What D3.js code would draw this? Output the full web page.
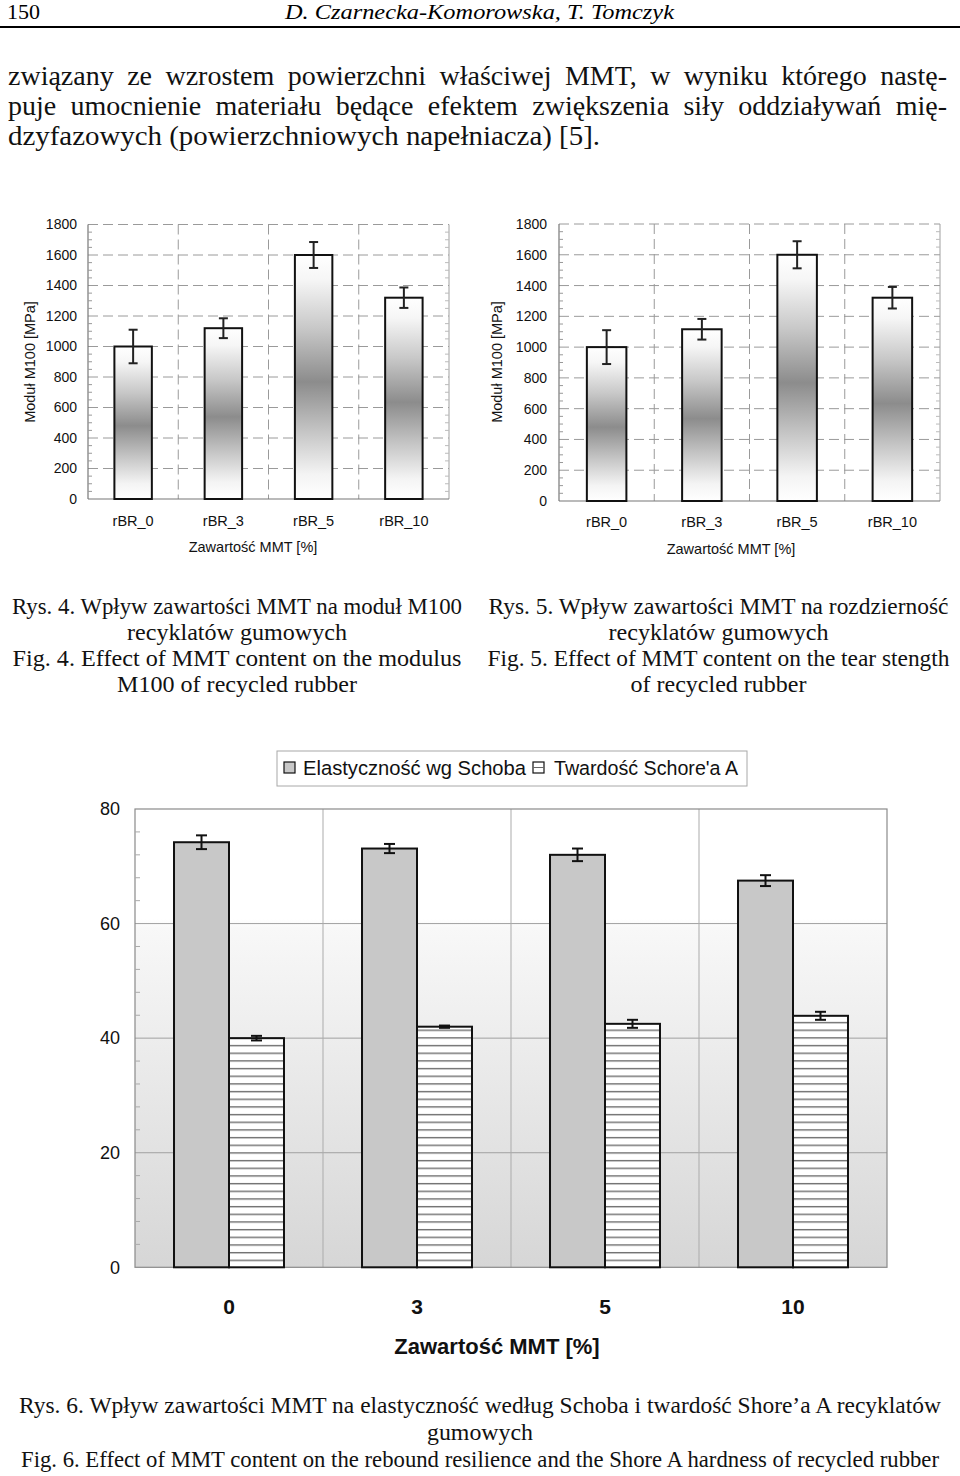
<!DOCTYPE html>
<html><head><meta charset="utf-8">
<script src="https://cdn.jsdelivr.net/npm/d3@7/dist/d3.min.js"></script>
<style>
html,body{margin:0;padding:0;background:#fff;}
svg{display:block;}
</style></head>
<body>
<svg id="page" width="960" height="1476"></svg>
<script>
// ---------- DATA ----------
const categoriesTop = ["rBR_0", "rBR_3", "rBR_5", "rBR_10"];
const modulusM100 = [1000, 1120, 1600, 1320];
const modulusErr = [110, 65, 85, 67];
const tearStrength = [1000, 1116, 1600, 1321];
const tearErr = [110, 67, 88, 70];
const topTicks = [0, 200, 400, 600, 800, 1000, 1200, 1400, 1600, 1800];

const mmtContent = ["0", "3", "5", "10"];
const seriesNames = ["Elastyczność wg Schoba", "Twardość Schore'a A"];
const elasticity = [74.2, 73.1, 72.0, 67.5];
const elasticityErr = [1.2, 0.8, 1.1, 0.95];
const hardness = [40.0, 42.0, 42.5, 43.9];
const hardnessErr = [0.4, 0.2, 0.7, 0.7];
const bottomTicks = [0, 20, 40, 60, 80];

// ---------- TEXT ----------
const headerNum = "150";
const headerAuthors = "D. Czarnecka-Komorowska, T. Tomczyk";
const paraLines = [
  "związany ze wzrostem powierzchni właściwej MMT, w wyniku którego nastę-",
  "puje umocnienie materiału będące efektem zwiększenia siły oddziaływań mię-",
  "dzyfazowych (powierzchniowych napełniacza) [5]."
];
const cap4 = ["Rys. 4. Wpływ zawartości MMT na moduł M100", "recyklatów gumowych",
  "Fig. 4. Effect of MMT content on the modulus", "M100 of recycled rubber"];
const cap5 = ["Rys. 5. Wpływ zawartości MMT na rozdzierność", "recyklatów gumowych",
  "Fig. 5. Effect of MMT content on the tear stength", "of recycled rubber"];
const cap6 = ["Rys. 6. Wpływ zawartości MMT na elastyczność według Schoba i twardość Shore’a A recyklatów",
  "gumowych",
  "Fig. 6. Effect of MMT content on the rebound resilience and the Shore A hardness of recycled rubber"];

const SERIF = "'Liberation Serif','Times New Roman',serif";
const SANS = "'Liberation Sans',Arial,sans-serif";

const svg = d3.select("#page");
const defs = svg.append("defs");

// ---------- HEADER ----------
svg.append("text").attr("x", 7).attr("y", 19).attr("font-family", SERIF).attr("font-size", 22)
  .attr("textLength", 33).attr("lengthAdjust", "spacingAndGlyphs").text(headerNum);
svg.append("text").attr("x", 285).attr("y", 19).attr("font-family", SERIF).attr("font-size", 22)
  .attr("font-style", "italic").attr("textLength", 389).attr("lengthAdjust", "spacingAndGlyphs").text(headerAuthors);
svg.append("line").attr("x1", 0).attr("x2", 960).attr("y1", 27).attr("y2", 27)
  .attr("stroke", "#000").attr("stroke-width", 2);

// ---------- PARAGRAPH ----------
const paraFs = 28;
function justifyLine(str, xL, xR, y) {
  const words = str.split(" ");
  const g = svg.append("g");
  const nodes = words.map(w => g.append("text").attr("font-family", SERIF).attr("font-size", paraFs)
    .attr("fill", "#111").attr("y", y).text(w));
  const widths = nodes.map(n => n.node().getComputedTextLength());
  const total = d3.sum(widths);
  const gap = (xR - xL - total) / (words.length - 1);
  let x = xL;
  nodes.forEach((n, i) => { n.attr("x", x); x += widths[i] + gap; });
}
justifyLine(paraLines[0], 8, 947, 85);
justifyLine(paraLines[1], 8, 947, 115);
svg.append("text").attr("x", 8).attr("y", 145).attr("font-family", SERIF).attr("font-size", paraFs)
  .attr("fill", "#111").attr("textLength", 592).attr("lengthAdjust", "spacingAndGlyphs").text(paraLines[2]);

// ---------- TOP CHART GRADIENT ----------
const grad = defs.append("linearGradient").attr("id", "barGrad")
  .attr("x1", 0).attr("y1", 0).attr("x2", 0).attr("y2", 1);
[[0, "#ffffff"], [0.1, "#f6f6f6"], [0.3, "#c8c8c8"], [0.52, "#8c8c8c"], [0.72, "#c4c4c4"], [0.9, "#f4f4f4"], [1, "#ffffff"]]
  .forEach(([o, c]) => grad.append("stop").attr("offset", o).attr("stop-color", c));

function drawTop(cfg) {
  const g = svg.append("g");
  const x = d3.scaleBand().domain(categoriesTop).range([cfg.x0, cfg.x1]).padding(0);
  const y = d3.scaleLinear().domain([0, 1800]).range([cfg.yb, cfg.yt]);
  g.selectAll(".hg").data(topTicks.filter(t => t > 0)).enter().append("line")
    .attr("x1", cfg.x0).attr("x2", cfg.x1).attr("y1", d => y(d)).attr("y2", d => y(d))
    .attr("stroke", "#9a9a9a").attr("stroke-width", 1).attr("stroke-dasharray", "10,5");
  g.selectAll(".vg").data(categoriesTop.slice(1)).enter().append("line")
    .attr("x1", d => x(d)).attr("x2", d => x(d)).attr("y1", cfg.yt).attr("y2", cfg.yb)
    .attr("stroke", "#9a9a9a").attr("stroke-width", 1).attr("stroke-dasharray", "10,5");
  g.append("line").attr("x1", cfg.x1).attr("x2", cfg.x1).attr("y1", cfg.yt).attr("y2", cfg.yb)
    .attr("stroke", "#a0a0a0").attr("stroke-width", 1);
  g.append("line").attr("x1", cfg.x0).attr("x2", cfg.x0).attr("y1", cfg.yt).attr("y2", cfg.yb)
    .attr("stroke", "#777").attr("stroke-width", 1.2);
  g.append("line").attr("x1", cfg.x0).attr("x2", cfg.x1).attr("y1", cfg.yb).attr("y2", cfg.yb)
    .attr("stroke", "#777").attr("stroke-width", 1.2);
  const minor = d3.range(50, 1800, 50).filter(v => v % 200 !== 0);
  g.selectAll(".mt").data(minor).enter().append("line")
    .attr("x1", cfg.x0).attr("x2", cfg.x0 + 4).attr("y1", d => y(d)).attr("y2", d => y(d))
    .attr("stroke", "#999").attr("stroke-width", 1);
  g.selectAll(".mt2").data(minor).enter().append("line")
    .attr("x1", cfg.x1).attr("x2", cfg.x1 - 4).attr("y1", d => y(d)).attr("y2", d => y(d))
    .attr("stroke", "#bbb").attr("stroke-width", 1);
  const bw = x.bandwidth() * 0.415;
  g.selectAll(".bar").data(cfg.values).enter().append("rect")
    .attr("x", (d, i) => x(categoriesTop[i]) + x.bandwidth() / 2 - bw / 2)
    .attr("y", d => y(d)).attr("width", bw).attr("height", d => y(0) - y(d))
    .attr("fill", "url(#barGrad)").attr("stroke", "#111").attr("stroke-width", 2);
  const cw = 9;
  cfg.values.forEach((v, i) => {
    const cx = x(categoriesTop[i]) + x.bandwidth() / 2;
    const e = cfg.errs[i];
    const eg = g.append("g").attr("stroke", "#222").attr("stroke-width", 2);
    eg.append("line").attr("x1", cx).attr("x2", cx).attr("y1", y(v + e)).attr("y2", y(v - e));
    eg.append("line").attr("x1", cx - cw / 2).attr("x2", cx + cw / 2).attr("y1", y(v + e)).attr("y2", y(v + e));
    eg.append("line").attr("x1", cx - cw / 2).attr("x2", cx + cw / 2).attr("y1", y(v - e)).attr("y2", y(v - e));
  });
  const ya = g.append("g").attr("transform", `translate(${cfg.x0},0)`)
    .call(d3.axisLeft(y).tickValues(topTicks).tickSize(0).tickPadding(cfg.yPad).tickFormat(d3.format("d")));
  ya.select(".domain").remove();
  ya.selectAll("text").attr("font-family", SANS).attr("font-size", 14).attr("fill", "#111");
  const xa = g.append("g").attr("transform", `translate(0,${cfg.yb})`)
    .call(d3.axisBottom(x).tickSize(0).tickPadding(cfg.xPad));
  xa.select(".domain").remove();
  xa.selectAll("text").attr("font-family", SANS).attr("font-size", 14.5).attr("fill", "#111");
  g.append("text").attr("x", cfg.titleX).attr("y", cfg.titleY).attr("text-anchor", "middle")
    .attr("font-family", SANS).attr("font-size", 14.5).attr("fill", "#111").text("Zawartość MMT [%]");
  g.append("text").attr("transform", `translate(${cfg.ylabX},${cfg.ylabY}) rotate(-90)`)
    .attr("text-anchor", "middle").attr("dy", "0.35em")
    .attr("font-family", SANS).attr("font-size", 14.5).attr("fill", "#111").text("Moduł M100 [MPa]");
}

drawTop({ x0: 88, x1: 449, yt: 224.5, yb: 499, values: modulusM100, errs: modulusErr,
  yPad: 11, xPad: 17, titleX: 253, titleY: 552, ylabX: 30, ylabY: 362 });
drawTop({ x0: 559, x1: 940, yt: 224, yb: 501, values: tearStrength, errs: tearErr,
  yPad: 12, xPad: 16, titleX: 731, titleY: 554, ylabX: 497, ylabY: 362 });

// ---------- CAPTIONS ----------
function caption(lines, cx, ys, widths) {
  lines.forEach((t, i) => {
    svg.append("text").attr("x", cx).attr("y", ys[i]).attr("text-anchor", "middle")
      .attr("font-family", SERIF).attr("font-size", 23).attr("fill", "#111")
      .attr("textLength", widths[i]).attr("lengthAdjust", "spacingAndGlyphs").text(t);
  });
}
caption(cap4, 237, [614, 640, 666, 692], [450, 220, 449, 240]);
caption(cap5, 718.5, [614, 640, 666, 692], [460, 220, 462, 176]);
caption(cap6, 480, [1413, 1440, 1467], [922, 106, 918]);

// ---------- BOTTOM CHART ----------
const B = { x0: 135, x1: 887, yt: 809, yb: 1267.3 };
const xb = d3.scaleBand().domain(mmtContent).range([B.x0, B.x1]).padding(0);
const yb = d3.scaleLinear().domain([0, 80]).range([B.yb, B.yt]);
const gw = xb.bandwidth() * 0.585;
const xs = d3.scaleBand().domain(seriesNames).range([0, gw]).padding(0);

const bg = defs.append("linearGradient").attr("id", "plotBg").attr("gradientUnits", "userSpaceOnUse")
  .attr("x1", 0).attr("x2", 0).attr("y1", B.yt).attr("y2", B.yb);
[[0, "#ffffff"], [0.24, "#ffffff"], [0.26, "#f8f8f8"], [1, "#d6d6d6"]]
  .forEach(([o, c]) => bg.append("stop").attr("offset", o).attr("stop-color", c));

const pat = defs.append("pattern").attr("id", "hatch").attr("patternUnits", "userSpaceOnUse")
  .attr("x", 0).attr("y", B.yb).attr("width", 10).attr("height", 7.67);
pat.append("rect").attr("width", 10).attr("height", 7.67).attr("fill", "#fff");
pat.append("rect").attr("y", 0).attr("width", 10).attr("height", 1.4).attr("fill", "#6e6e6e");

const gb = svg.append("g");
gb.append("rect").attr("x", B.x0).attr("y", B.yt).attr("width", B.x1 - B.x0).attr("height", B.yb - B.yt)
  .attr("fill", "url(#plotBg)");
gb.selectAll(".hg").data(bottomTicks.filter(t => t > 0 && t < 80)).enter().append("line")
  .attr("x1", B.x0).attr("x2", B.x1).attr("y1", d => yb(d)).attr("y2", d => yb(d))
  .attr("stroke", "#a0a0a0").attr("stroke-width", 1);
gb.selectAll(".vg").data(mmtContent.slice(1)).enter().append("line")
  .attr("x1", d => xb(d)).attr("x2", d => xb(d)).attr("y1", B.yt).attr("y2", B.yb)
  .attr("stroke", "#ababab").attr("stroke-width", 1);
gb.append("rect").attr("x", B.x0).attr("y", B.yt).attr("width", B.x1 - B.x0).attr("height", B.yb - B.yt)
  .attr("fill", "none").attr("stroke", "#8a8a8a").attr("stroke-width", 1.2);
gb.selectAll(".mt").data(d3.range(4, 80, 4).filter(v => v % 20 !== 0)).enter().append("line")
  .attr("x1", B.x0).attr("x2", B.x0 + 5).attr("y1", d => yb(d)).attr("y2", d => yb(d))
  .attr("stroke", "#aaa").attr("stroke-width", 1);

const seriesVals = [elasticity, hardness];
const seriesErrs = [elasticityErr, hardnessErr];
const seriesFill = ["#c8c8c8", "url(#hatch)"];
seriesNames.forEach((s, si) => {
  mmtContent.forEach((c, i) => {
    const left = xb(c) + xb.bandwidth() / 2 - gw / 2 + xs(s);
    const v = seriesVals[si][i];
    gb.append("rect").attr("x", left).attr("y", yb(v)).attr("width", xs.bandwidth())
      .attr("height", yb(0) - yb(v)).attr("fill", seriesFill[si])
      .attr("stroke", "#111").attr("stroke-width", 2);
  });
});
seriesNames.forEach((s, si) => {
  mmtContent.forEach((c, i) => {
    const cx = xb(c) + xb.bandwidth() / 2 - gw / 2 + xs(s) + xs.bandwidth() / 2;
    const v = seriesVals[si][i], e = seriesErrs[si][i];
    const cw = 11;
    const eg = gb.append("g").attr("stroke", "#111").attr("stroke-width", 2);
    eg.append("line").attr("x1", cx).attr("x2", cx).attr("y1", yb(v + e)).attr("y2", yb(v - e));
    eg.append("line").attr("x1", cx - cw / 2).attr("x2", cx + cw / 2).attr("y1", yb(v + e)).attr("y2", yb(v + e));
    eg.append("line").attr("x1", cx - cw / 2).attr("x2", cx + cw / 2).attr("y1", yb(v - e)).attr("y2", yb(v - e));
  });
});

const yab = gb.append("g").attr("transform", `translate(${B.x0},0)`)
  .call(d3.axisLeft(yb).tickValues(bottomTicks).tickSize(0).tickPadding(15));
yab.select(".domain").remove();
yab.selectAll("text").attr("font-family", SANS).attr("font-size", 18).attr("fill", "#111");
const xab = gb.append("g").attr("transform", `translate(0,${B.yb})`)
  .call(d3.axisBottom(xb).tickSize(0).tickPadding(32));
xab.select(".domain").remove();
xab.selectAll("text").attr("font-family", SANS).attr("font-size", 21).attr("font-weight", "bold").attr("fill", "#111");
gb.append("text").attr("x", 497).attr("y", 1354).attr("text-anchor", "middle")
  .attr("font-family", SANS).attr("font-size", 22).attr("font-weight", "bold").attr("fill", "#111")
  .text("Zawartość MMT [%]");

// legend
const lg = svg.append("g");
lg.append("rect").attr("x", 277).attr("y", 751).attr("width", 470).attr("height", 35)
  .attr("fill", "#fff").attr("stroke", "#a8a8a8").attr("stroke-width", 1);
const legX = [284, 533], legTX = [303, 554], legW = [223, 184];
seriesNames.forEach((s, si) => {
  lg.append("rect").attr("x", legX[si]).attr("y", 762).attr("width", 11).attr("height", 11)
    .attr("fill", si === 0 ? "#c8c8c8" : "#fff").attr("stroke", "#111").attr("stroke-width", 1.2);
  if (si === 1) {
    lg.append("line").attr("x1", legX[si]).attr("x2", legX[si] + 11).attr("y1", 767.5).attr("y2", 767.5)
      .attr("stroke", "#666").attr("stroke-width", 1);
  }
  lg.append("text").attr("x", legTX[si]).attr("y", 774.5).attr("font-family", SANS).attr("font-size", 20.5)
    .attr("fill", "#111").attr("textLength", legW[si]).attr("lengthAdjust", "spacingAndGlyphs").text(s);
});
</script>
</body></html>
